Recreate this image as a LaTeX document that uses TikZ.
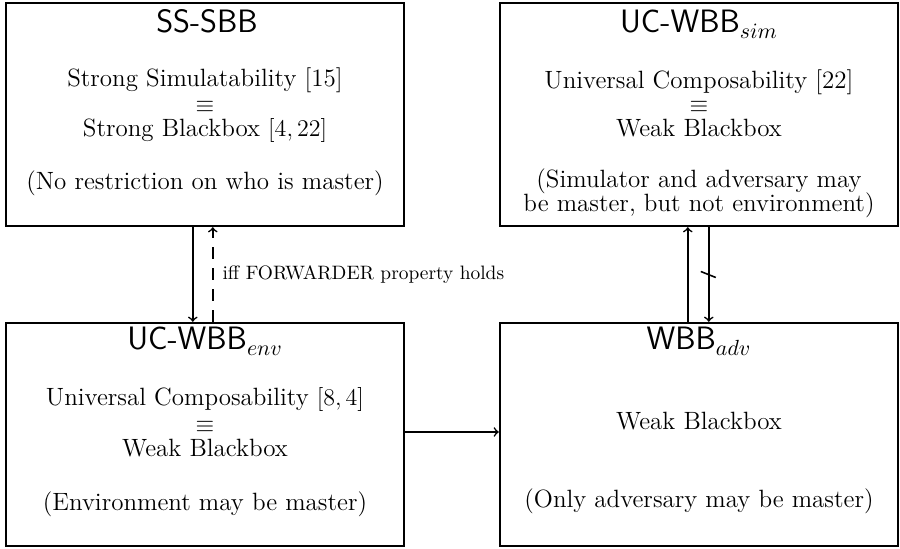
\documentclass[tikz,border=0pt]{standalone}
\usetikzlibrary{calc}
\begin{document}
\begin{tikzpicture}[x=0.5pt,y=-0.5pt,
 box/.style={draw, line width=1.2pt, minimum width=199pt, minimum height=111.5pt, inner sep=0pt},
 ttl/.style={anchor=base, font=\fontsize{16.2}{19}\selectfont\sffamily, inner sep=0pt},
 txt/.style={anchor=base, font=\fontsize{12.5}{14}\selectfont, inner sep=0pt},
 eqv/.style={anchor=center, font=\fontsize{12.5}{14}\selectfont, inner sep=0pt},
 arr/.style={->, line width=0.8pt},
 lbl/.style={font=\fontsize{9.7}{11}\selectfont, anchor=west, inner sep=0pt}]
\useasboundingbox (0,0) rectangle (900,549);
\node[box] (tl) at (205,114.5) {};
\node[box] (tr) at (699,114.5) {};
\node[box] (bl) at (205,434.5) {};
\node[box] (br) at (699,434.5) {};
% titles
\node[ttl] (tlt) at (207,33) {SS-SBB};
\node[ttl] (trt) at (699,33) {UC-WBB$_{sim}$};
\node[ttl] (blt) at (205,350) {UC-WBB$_{env}$};
\node[ttl] (brt) at (699,350) {WBB$_{adv}$};
% top left
\node[txt] (tl1) at (205,87) {Strong Simulatability [15]};
\node[eqv] (tle) at (205,107) {$\equiv$};
\node[txt] (tl2) at (205,137) {Strong Blackbox $[4,22]$};
\node[txt] (tl3) at (205,190) {(No restriction on who is master)};
% top right
\node[txt] (tr1) at (699,89) {Universal Composability [22]};
\node[eqv] (tre) at (699,107) {$\equiv$};
\node[txt] (tr2) at (699,137) {Weak Blackbox};
\node[txt] (tr3) at (699,188) {(Simulator and adversary may};
\node[txt] (tr4) at (699,212) {be master, but not environment)};
% bottom left
\node[txt] (bl1) at (205,406) {Universal Composability $[8,4]$};
\node[eqv] (ble) at (205,427) {$\equiv$};
\node[txt] (bl2) at (205,457) {Weak Blackbox};
\node[txt] (bl3) at (205,511) {(Environment may be master)};
% bottom right
\node[txt] (br1) at (699,430) {Weak Blackbox};
\node[txt] (br3) at (699,508) {(Only adversary may be master)};
% connectors
\draw[arr] ([xshift=94pt]tl.south west) -- ([xshift=94pt]bl.north west);
\draw[arr, dash pattern=on 6pt off 4.5pt] ([xshift=104pt]bl.north west) --
  node[midway, lbl, xshift=4.5pt] (iff) {iff FORWARDER property holds} ([xshift=104pt]tl.south west);
\draw[arr] ([xshift=94.5pt]br.north west) -- ([xshift=94.5pt]tr.south west);
\draw[arr] ([xshift=105pt]tr.south west) -- coordinate[midway] (cut) ([xshift=105pt]br.north west);
\draw[line width=0.8pt] ($(cut)+(-8,-3)$) -- ($(cut)+(7,3)$);
\draw[arr] ([yshift=1.25pt]bl.east) -- ([yshift=1.25pt]br.west);
\end{tikzpicture}
\end{document}
